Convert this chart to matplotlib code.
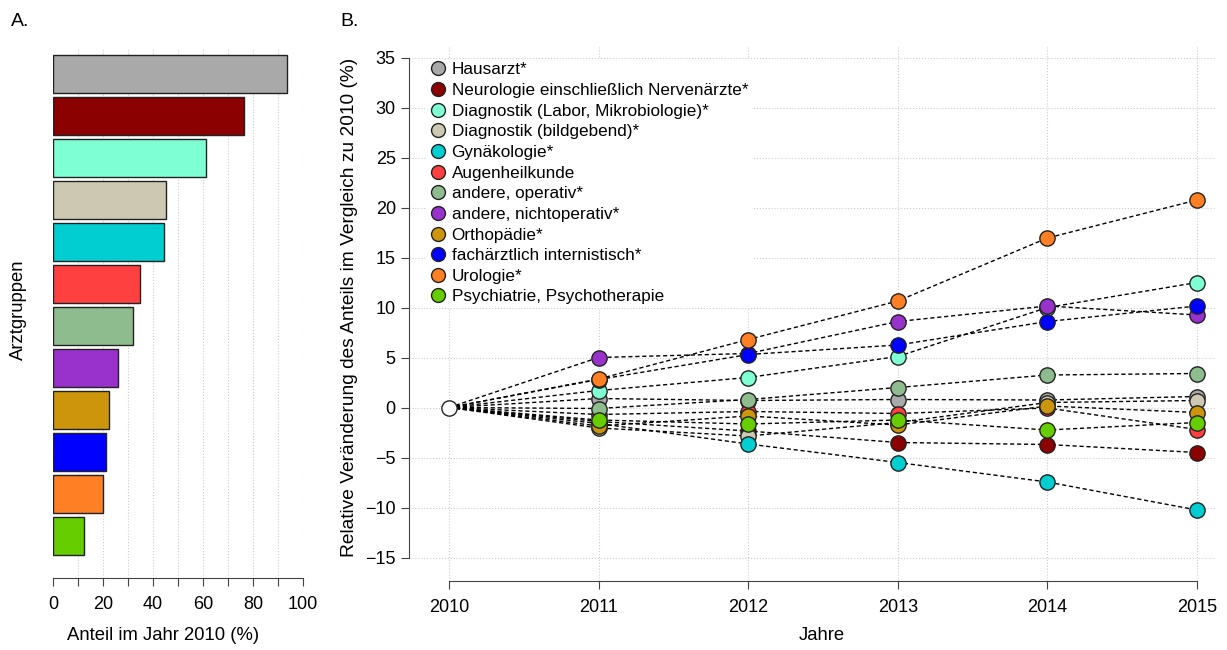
import matplotlib.pyplot as plt
from matplotlib.lines import Line2D
import numpy as np

plt.rcParams['font.family'] = ['Liberation Sans', 'DejaVu Sans']

groups = ['Hausarzt*', 'Neurologie einschließlich Nervenärzte*',
          'Diagnostik (Labor, Mikrobiologie)*', 'Diagnostik (bildgebend)*',
          'Gynäkologie*', 'Augenheilkunde', 'andere, operativ*',
          'andere, nichtoperativ*', 'Orthopädie*', 'fachärztlich internistisch*',
          'Urologie*', 'Psychiatrie, Psychotherapie']
colors = ['#A9A9A9', '#8B0000', '#7FFFD4', '#CDC8B1', '#00CED1', '#FF4040',
          '#8FBC8F', '#9932CC', '#CD950C', '#0000FF', '#FF7F24', '#66CD00']

# panel A: share in 2010 (%)
share_2010 = [93.6, 76.4, 61.0, 45.3, 44.2, 34.8, 32.0, 26.1, 22.2, 21.0, 20.0, 12.5]

# panel B: relative change vs 2010 (%)
years = [2010, 2011, 2012, 2013, 2014, 2015]
chg_2011 = [0.9, -1.4, 1.7, -2.05, -1.6, -0.7, -0.1, 5.0, -1.85, 2.8, 2.85, -1.25]
chg_2012 = [0.7, -2.35, 3.0, -2.85, -3.65, -0.4, 0.8, 5.4, -0.85, 5.3, 6.8, -1.65]
chg_2013 = [0.8, -3.5, 5.1, -1.5, -5.5, -0.6, 2.0, 8.6, -1.75, 6.25, 10.65, -1.25]
chg_2014 = [0.75, -3.7, 10.0, 0.5, -7.45, -0.05, 3.25, 10.15, 0.15, 8.6, 16.95, -2.25]
chg_2015 = [1.1, -4.5, 12.5, 0.7, -10.25, -2.2, 3.4, 9.25, -0.5, 10.15, 20.75, -1.5]

W, H = 1227, 650
fig = plt.figure(figsize=(W / 100, H / 100), dpi=100)


def px_axes(l, t, r, b):
    return fig.add_axes([l / W, 1 - b / H, (r - l) / W, (b - t) / H])


axis_col = '#444444'
grid_col = '#cccccc'
tick_fs = 13
lab_fs = 13.3

# ---- panel A
axA = px_axes(53, 48, 303, 578)
n = len(share_2010)
pos = np.arange(n)[::-1]
axA.barh(pos, share_2010, height=0.9, color=colors, edgecolor='#222222',
         linewidth=1, zorder=3)
axA.set_xlim(0, 100)
axA.set_ylim(-0.99, 11.62)
axA.set_xticks(range(0, 101, 10))
axA.set_xticklabels([str(v) if v % 20 == 0 else '' for v in range(0, 101, 10)])
axA.set_yticks([])
for v in range(10, 101, 10):
    axA.axvline(v, color=grid_col, linestyle=':', linewidth=0.8, zorder=1)
for s in ['top', 'right', 'left']:
    axA.spines[s].set_visible(False)
axA.spines['bottom'].set_color(axis_col)
axA.tick_params(axis='x', direction='out', length=6, color=axis_col,
                labelsize=tick_fs, pad=7)
fig.text(163 / W, 1 - 636 / H, 'Anteil im Jahr 2010 (%)', ha='center',
         va='center', fontsize=lab_fs)
fig.text(18 / W, 1 - 310 / H, 'Arztgruppen', ha='center', va='center',
         rotation=90, fontsize=lab_fs)

# ---- panel B
axB = px_axes(409, 47, 1215, 581)
changes = np.column_stack([np.zeros(n), chg_2011, chg_2012, chg_2013,
                           chg_2014, chg_2015])
for i in range(n):
    axB.plot(years, changes[i], color='black', linestyle=(0, (3, 2)),
             linewidth=1.0, zorder=2)
for i in range(n):
    axB.plot(years[1:], changes[i, 1:], linestyle='none', marker='o',
             markersize=11, markerfacecolor=colors[i],
             markeredgecolor='#222222', markeredgewidth=1, zorder=3)
axB.plot([years[0]], [0], linestyle='none', marker='o', markersize=11,
         markerfacecolor='white', markeredgecolor='#222222',
         markeredgewidth=1, zorder=3)

axB.set_xlim(2010 - 40 / 149.6, 2015 + 18 / 149.6)
axB.set_ylim(-17.35, 36.05)
axB.set_xticks(years)
axB.set_yticks(range(-15, 36, 5))
for y in years:
    axB.axvline(y, color=grid_col, linestyle=':', linewidth=0.8, zorder=1)
for v in range(-15, 36, 5):
    axB.axhline(v, color=grid_col, linestyle=':', linewidth=0.8, zorder=1)
for s in ['top', 'right']:
    axB.spines[s].set_visible(False)
axB.spines['left'].set_bounds(-15, 35)
axB.spines['bottom'].set_bounds(2010, 2015)
axB.spines['left'].set_color(axis_col)
axB.spines['bottom'].set_color(axis_col)
axB.tick_params(direction='out', length=6, color=axis_col, labelsize=tick_fs)
axB.tick_params(axis='x', pad=7)
fig.text(822 / W, 1 - 636 / H, 'Jahre', ha='center', va='center',
         fontsize=lab_fs)
fig.text(349 / W, 1 - 307 / H,
         'Relative Veränderung des Anteils im Vergleich zu 2010 (%)',
         ha='center', va='center', rotation=90, fontsize=13.8)

handles = [Line2D([], [], linestyle='none', marker='o', markersize=10,
                  markerfacecolor=c, markeredgecolor='#222222',
                  markeredgewidth=1) for c in colors]
leg = axB.legend(handles, groups, loc='upper left',
                 bbox_to_anchor=(426 / W, 1 - 59 / H),
                 bbox_transform=fig.transFigure, fontsize=12.3,
                 frameon=True, facecolor='white', edgecolor='none',
                 framealpha=1, fancybox=False, borderpad=0.2,
                 handletextpad=0.3, handlelength=1.0, labelspacing=0.33,
                 borderaxespad=0)

fig.text(20 / W, 1 - 22 / H, 'A.', ha='center', va='center', fontsize=14)
fig.text(350 / W, 1 - 22 / H, 'B.', ha='center', va='center', fontsize=14)

fig.savefig('out.png', dpi=100)
